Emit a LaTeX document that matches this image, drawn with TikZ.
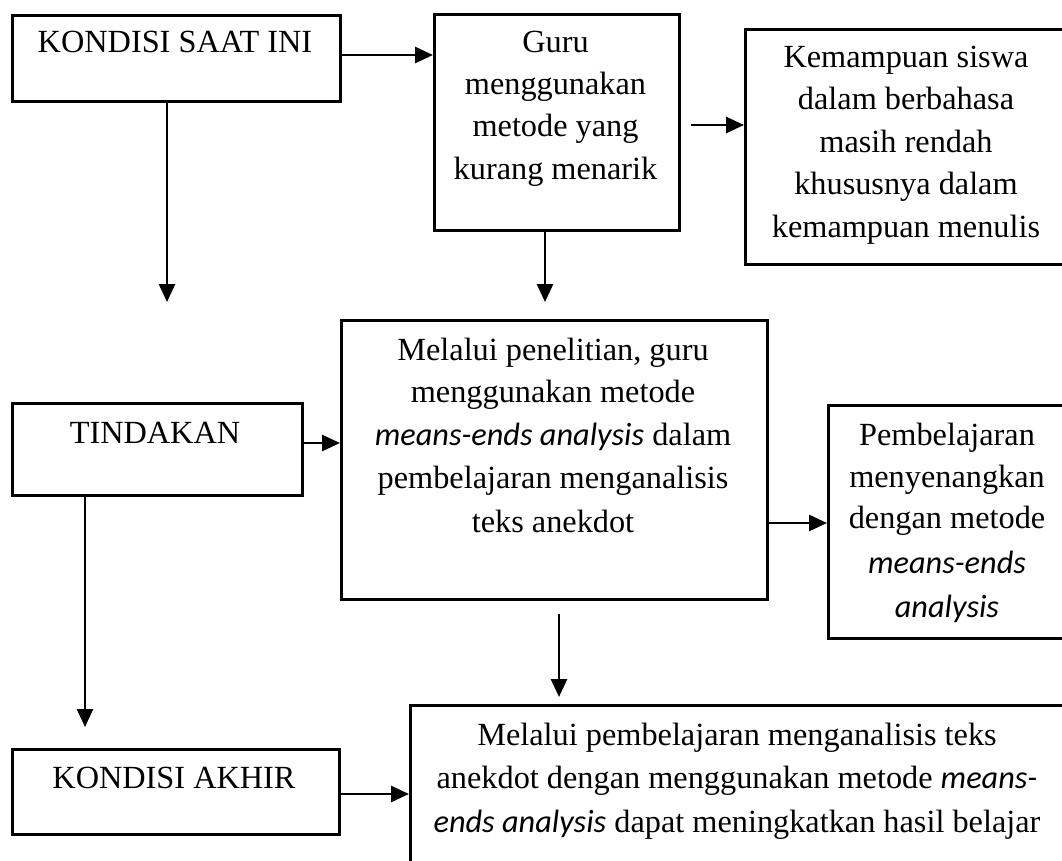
\documentclass[tikz,border=0pt]{standalone}
\usepackage{fontspec}
\setmainfont{Liberation Serif}
\newfontfamily\calfont{Carlito}
\usetikzlibrary{arrows.meta}
\newcommand\mea[1]{{\calfont\itshape #1}}
\tikzset{
  box/.style={draw=black, line width=2.6pt, inner sep=0pt, anchor=north west, fill=white},
  txt/.style={inner sep=0pt, anchor=base, font=\fontsize{32.3pt}{42pt}\selectfont},
  arr/.style={line width=2.8pt, -{Triangle[length=18pt,width=16pt]}}
}
\begin{document}
\begin{tikzpicture}[x=1pt,y=-1pt]
\useasboundingbox (0,0) rectangle (1062,861);
\clip (0,0) rectangle (1062,861);
\fill[white] (0,0) rectangle (1062,861);

% boxes
\node[box, minimum width=328pt, minimum height=86pt] (ksi) at (11,14) {};
\node[box, minimum width=245pt, minimum height=216pt] (guru) at (433,13) {};
\node[box, minimum width=325pt, minimum height=235pt] (kem) at (744,28) {};
\node[box, minimum width=290pt, minimum height=92pt] (tind) at (11,402) {};
\node[box, minimum width=426pt, minimum height=279pt] (mel) at (340,319) {};
\node[box, minimum width=240pt, minimum height=233pt] (pem) at (827,404) {};
\node[box, minimum width=327pt, minimum height=85pt] (ka) at (11,748) {};
\node[box, minimum width=656pt, minimum height=200pt] (bot) at (409,704) {};

% texts
\node[txt] (t1) at (175,53) {KONDISI SAAT INI};

\node[txt] (t2a) at (555.5,53) {Guru};
\node[txt] (t2b) at (555.5,95) {menggunakan};
\node[txt] (t2c) at (555.5,137) {metode yang};
\node[txt] (t2d) at (555.5,180) {kurang menarik};

\node[txt] (t3a) at (906,68) {Kemampuan siswa};
\node[txt] (t3b) at (906,110) {dalam berbahasa};
\node[txt] (t3c) at (906,153) {masih rendah};
\node[txt] (t3d) at (906,195) {khususnya dalam};
\node[txt] (t3e) at (906,237) {kemampuan menulis};

\node[txt] (t4) at (155,443) {TINDAKAN};

\node[txt] (t5a) at (553,360) {Melalui penelitian, guru};
\node[txt] (t5b) at (553,402) {menggunakan metode};
\node[txt] (t5c) at (553,445) {\mea{means-ends analysis} dalam};
\node[txt] (t5d) at (553,488) {pembelajaran menganalisis};
\node[txt] (t5e) at (553,532) {teks anekdot};

\node[txt] (t6a) at (947,445) {Pembelajaran};
\node[txt] (t6b) at (947,487) {menyenangkan};
\node[txt] (t6c) at (947,528) {dengan metode};
\node[txt] (t6d) at (947,573) {\mea{means-ends}};
\node[txt] (t6e) at (947,617) {\mea{analysis}};

\node[txt] (t7) at (174,788) {KONDISI AKHIR};

\node[txt] (t8a) at (737,745) {Melalui pembelajaran menganalisis teks};
\node[txt] (t8b) at (737,788) {anekdot dengan menggunakan metode \mea{means-}};
\node[txt] (t8c) at (737,832) {\mea{ends analysis} dapat meningkatkan hasil belajar};

% free ends
\coordinate (e1) at (167,302);
\coordinate (e3) at (691,125);
\coordinate (e4) at (545,302);
\coordinate (e5a) at (85,497);
\coordinate (e5b) at (85,727);
\coordinate (e6a) at (559,614);
\coordinate (e6b) at (559,697);

% connectors
\draw[arr] (ksi.east |- 0,55) -- (guru.west |- 0,55);
\draw[arr] (ksi.south -| e1) -- (e1);
\draw[arr] (e3) -- (kem.west |- e3);
\draw[arr] (guru.south -| e4) -- (e4);
\draw[arr] (tind.east |- 0,443) -- (mel.west |- 0,443);
\draw[arr] (e5a) -- (e5b);
\draw[arr] (mel.east |- 0,523) -- (pem.west |- 0,523);
\draw[arr] (e6a) -- (e6b);
\draw[arr] (ka.east |- 0,794) -- (bot.west |- 0,794);
\end{tikzpicture}
\end{document}
